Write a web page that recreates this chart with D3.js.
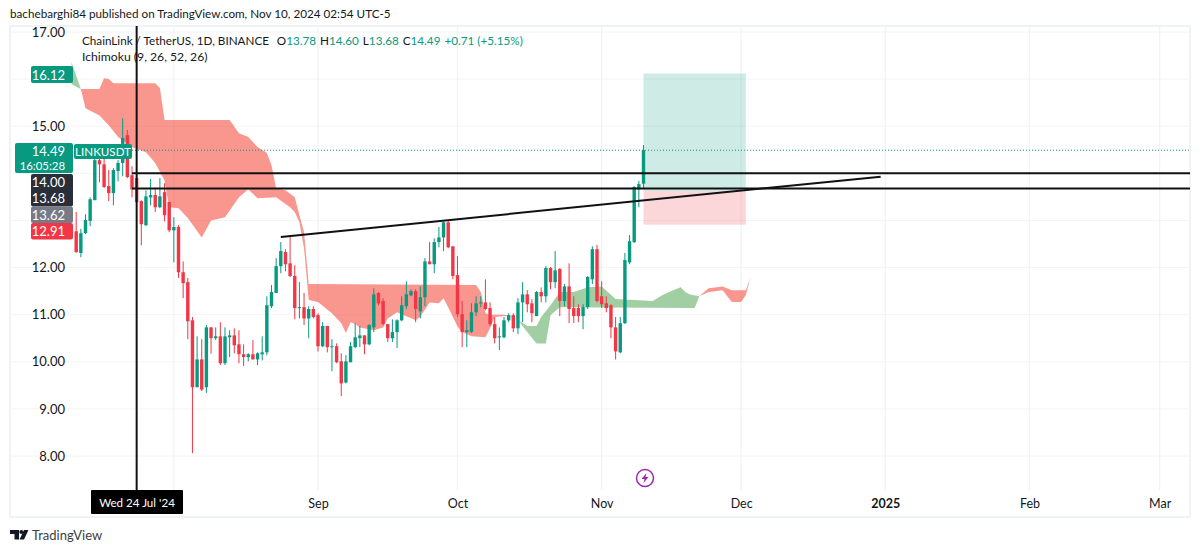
<!DOCTYPE html>
<head>
  <meta charset="utf-8">
  <style>
    html, body { margin: 0; padding: 0; background: #fff; overflow: hidden; }
    svg { display: block; font-family: Lato, sans-serif; color: #131722; }
    .domain { display: none; }
  </style>
  <script src="https://cdn.jsdelivr.net/npm/d3@7"></script>
</head>
<body>
<div id="chart"></div>
<script>
// daily candles, first one is 11 Jul 2024
const first_day = Date.UTC(2024, 6, 11)

const open_prices = [
  12.77, 12.31, 12.73, 12.99, 13.43, 14.28, 14.19, 13.73, 13.58, 14.05,
  14.22, 14.81, 13.96, 13.90, 13.41, 12.90, 13.49, 13.54, 13.28, 13.60,
  13.39, 12.79, 12.86, 11.90, 11.69, 10.88, 9.46, 10.05, 9.46, 10.73,
  10.50, 10.54, 9.97, 10.52, 10.56, 10.37, 10.16, 10.10, 10.16, 10.05,
  10.16, 10.20, 11.18, 11.46, 12.03, 12.33, 12.09, 11.82, 11.14, 11.16,
  10.92, 11.12, 10.99, 10.33, 10.76, 10.31, 10.33, 10.01, 9.56, 9.99,
  10.31, 10.50, 10.56, 10.37, 10.73, 11.46, 11.29, 10.80, 10.50, 10.63,
  10.88, 11.18, 11.41, 11.50, 11.07, 11.37, 12.13, 12.07, 12.54, 12.64,
  12.96, 12.45, 11.84, 11.01, 10.63, 10.63, 11.05, 11.24, 11.26, 11.14,
  10.80, 10.52, 10.52, 10.88, 10.99, 10.71, 11.26, 11.43, 11.24, 10.97,
  11.48, 11.39, 11.99, 11.69, 11.97, 11.29, 11.60, 11.14, 11.14, 10.97,
  11.16, 11.75, 12.39, 11.39, 11.24, 11.20, 10.73, 10.20, 10.82, 12.11,
  12.54, 13.66, 13.78
]
const high_prices = [
  13.18, 12.82, 13.13, 13.49, 14.50, 14.50, 14.39, 14.07, 14.11, 14.28,
  15.17, 14.92, 14.15, 13.96, 13.43, 13.64, 13.88, 13.66, 13.90, 13.79,
  13.39, 13.07, 12.90, 12.13, 11.78, 10.95, 10.54, 10.48, 10.78, 10.73,
  10.73, 10.84, 10.73, 10.67, 10.71, 10.67, 10.37, 10.18, 10.46, 10.20,
  10.54, 11.39, 11.63, 12.20, 12.54, 12.39, 12.69, 12.05, 11.69, 11.46,
  11.18, 11.18, 11.03, 10.84, 10.76, 10.48, 10.39, 10.18, 10.14, 10.42,
  10.82, 10.76, 10.56, 10.80, 11.56, 11.48, 11.35, 10.80, 10.90, 10.90,
  11.39, 11.71, 11.54, 11.54, 11.60, 12.20, 12.54, 12.62, 12.86, 12.98,
  13.01, 12.45, 12.24, 11.29, 10.88, 11.24, 11.39, 11.39, 11.75, 11.26,
  10.95, 10.73, 10.95, 11.03, 11.03, 11.35, 11.69, 11.52, 11.33, 11.50,
  11.58, 12.03, 12.01, 12.35, 11.99, 11.65, 12.09, 11.39, 11.22, 11.22,
  11.82, 12.45, 12.48, 11.71, 11.39, 11.22, 10.95, 10.95, 12.31, 12.69,
  13.73, 13.84, 14.60
]
const low_prices = [
  12.31, 12.22, 12.71, 12.88, 13.43, 13.81, 13.69, 13.41, 13.32, 13.83,
  13.94, 13.90, 13.49, 13.37, 12.47, 12.88, 13.32, 13.18, 13.26, 12.98,
  12.75, 12.11, 11.78, 11.35, 10.48, 8.06, 9.46, 9.38, 9.34, 10.17,
  10.46, 9.93, 9.93, 10.10, 10.18, 9.97, 9.91, 10.01, 10.05, 9.93,
  10.03, 10.14, 11.14, 11.46, 11.88, 11.92, 11.80, 10.90, 10.92, 10.78,
  10.50, 10.92, 10.22, 10.31, 10.20, 9.80, 9.97, 9.27, 9.54, 9.99,
  10.29, 10.31, 10.16, 10.35, 10.63, 11.20, 10.78, 10.42, 10.42, 10.29,
  10.86, 11.12, 11.39, 10.84, 10.92, 11.18, 12.07, 11.88, 12.43, 12.35,
  12.41, 11.75, 10.95, 10.31, 10.31, 10.61, 10.97, 11.16, 11.09, 10.76,
  10.39, 10.25, 10.50, 10.84, 10.63, 10.59, 10.84, 11.05, 10.84, 10.97,
  11.26, 11.26, 11.54, 11.56, 10.97, 11.18, 10.82, 10.82, 10.84, 10.69,
  11.12, 11.65, 11.26, 11.14, 11.05, 10.50, 10.05, 10.18, 10.80, 12.07,
  12.52, 13.28, 13.68
]
const close_prices = [
  12.33, 12.73, 13.01, 13.45, 14.28, 14.19, 13.71, 13.58, 14.07, 14.22,
  14.75, 13.92, 13.66, 13.39, 12.92, 13.51, 13.54, 13.28, 13.51, 13.11,
  12.79, 12.86, 11.90, 11.67, 10.86, 9.46, 10.05, 9.41, 10.73, 10.50,
  10.54, 9.97, 10.54, 10.56, 10.35, 10.16, 10.10, 10.16, 10.05, 10.18,
  10.20, 11.20, 11.48, 12.03, 12.35, 12.07, 11.82, 11.14, 11.16, 10.92,
  11.12, 10.95, 10.33, 10.76, 10.31, 10.33, 9.99, 9.54, 10.01, 10.33,
  10.52, 10.56, 10.37, 10.78, 11.43, 11.24, 10.80, 10.50, 10.63, 10.88,
  11.20, 11.43, 11.50, 11.12, 11.37, 12.13, 12.07, 12.54, 12.64, 12.96,
  12.43, 11.82, 11.01, 10.63, 10.67, 11.05, 11.24, 11.26, 11.12, 10.80,
  10.50, 10.54, 10.88, 10.99, 10.71, 11.26, 11.43, 11.22, 11.03, 11.48,
  11.39, 11.99, 11.69, 11.94, 11.29, 11.60, 11.12, 10.97, 10.97, 11.16,
  11.80, 12.39, 11.29, 11.22, 11.14, 10.73, 10.22, 10.82, 12.16, 12.56,
  13.71, 13.77, 14.49
]

// ichimoku cloud edges, [day after first_day, price]
const green_a_upper = [[-1, 16.36], [1, 15.79]]
const green_a_lower = [[-1, 15.89], [1, 15.79]]
const red_a_upper = [
  [1, 15.79], [5, 15.79], [6, 16.02], [7, 16.0], [8, 15.91], [17, 15.91], [18, 15.81], [19, 15.13],
  [33, 15.13], [35, 14.85], [37, 14.77], [39, 14.56], [41, 14.43], [42, 14.17], [43, 13.68], [45, 13.64],
  [47, 13.49], [48, 13.11], [49, 12.75], [50, 11.65], [86, 11.63], [87, 11.48], [88, 11.03], [89, 11.0],
  [92, 11.0], [94, 10.95]
]
const red_a_lower = [
  [1, 15.79], [2, 15.38], [5, 15.23], [7, 15.02], [9, 14.77], [12, 14.56], [15, 14.45], [17, 14.22],
  [19, 13.85], [20, 13.28], [22, 13.26], [24, 13.05], [27, 12.64], [29, 13.0], [32, 13.07], [35, 13.49],
  [37, 13.66], [39, 13.47], [43, 13.49], [46, 13.28], [47, 13.18], [48, 12.96], [49, 12.41], [50, 11.31],
  [52, 11.27], [55, 11.03], [57, 10.82], [58, 10.61], [59, 10.84], [60, 10.80], [61, 10.73], [64, 10.67],
  [66, 10.73], [67, 10.92], [69, 11.05], [73, 10.88], [74, 10.96], [76, 11.26], [78, 11.24], [79, 11.35],
  [80, 11.16], [82, 10.75], [83, 10.63], [85, 10.54], [88, 10.52], [89, 10.71], [90, 10.95], [92, 10.97],
  [94, 10.95]
]
const green_b_upper = [
  [94, 10.95], [97, 10.76], [99, 10.76], [100, 10.95], [102, 11.2], [104, 11.48], [107, 11.48], [110, 11.58],
  [113, 11.60], [116, 11.33], [124, 11.29], [126, 11.41], [128, 11.50], [130, 11.58], [131, 11.48], [132, 11.43],
  [134, 11.39]
]
const green_b_lower = [
  [94, 10.95], [95, 10.88], [97, 10.63], [99, 10.39], [101, 10.39], [102, 10.99], [104, 11.16], [133, 11.14],
  [134, 11.39]
]
const red_b_upper = [[134, 11.39], [136, 11.56], [139, 11.60], [141, 11.52], [144, 11.52], [145, 11.79]]
const red_b_lower = [[134, 11.39], [136, 11.48], [139, 11.52], [141, 11.27], [143, 11.27], [144, 11.41], [145, 11.79]]

// drawings
const trend_days = [44, 173]
const trend_prices = [12.65, 13.93]
const level_prices = [14.00, 13.68]
const position_days = [122, 144]
const target_price = 16.12
const entry_price = 13.62
const stop_price = 12.91
const last_price = 14.49
const crosshair_day = 13

const price_grid = [8, 9, 10, 11, 12, 13, 14, 15, 16, 17]
// 13, 14 and 16 sit behind the price tags
const price_ticks = [8, 9, 10, 11, 12, 15, 17]
const time_grid = [
  Date.UTC(2024, 7, 1), Date.UTC(2024, 8, 1), Date.UTC(2024, 9, 1), Date.UTC(2024, 10, 1),
  Date.UTC(2024, 11, 1), Date.UTC(2025, 0, 1), Date.UTC(2025, 1, 1), Date.UTC(2025, 2, 1)
]
// Aug sits behind the date tag
const time_ticks = time_grid.slice(1)
const time_labels = ['Sep', 'Oct', 'Nov', 'Dec', '2025', 'Feb', 'Mar']

const up_color = '#089981'
const down_color = '#f23645'
const ms_day = 864e5
const day_date = d => new Date(first_day + d * ms_day)

const width = 1200
const height = 552
const frame_left = 10, frame_right = 1190, frame_top = 26, frame_bottom = 517, plot_bottom = 490

const x = d3.scaleUtc()
  .domain([day_date(0), new Date(Date.UTC(2025, 2, 1))])
  .range([76.2, 1159.65])
const y = d3.scaleLinear().domain([8, 17]).range([456, 32])

const svg = d3.select('#chart').append('svg')
  .attr('width', width)
  .attr('height', height)
  .attr('viewBox', [0, 0, width, height])

// panel frame and grid
svg.append('rect')
  .attr('x', frame_left).attr('y', frame_top)
  .attr('width', frame_right - frame_left).attr('height', frame_bottom - frame_top)
  .attr('fill', 'none').attr('stroke', '#eceff2').attr('stroke-width', 1.5)

svg.append('g')
  .selectAll('line')
  .data(price_grid)
  .join('line')
    .attr('x1', frame_left).attr('x2', frame_right)
    .attr('y1', d => y(d)).attr('y2', d => y(d))
    .attr('stroke', '#f3f4f6')
svg.append('g')
  .selectAll('line')
  .data(time_grid)
  .join('line')
    .attr('x1', d => x(d)).attr('x2', d => x(d))
    .attr('y1', frame_top).attr('y2', plot_bottom)
    .attr('stroke', '#f1f2f4').attr('stroke-width', 1.2)

// axes
svg.append('g')
  .attr('transform', 'translate(70,0)')
  .call(d3.axisLeft(y).tickValues(price_ticks).tickFormat(d3.format('.2f')).tickSize(0).tickPadding(5))
  .call(g => g.selectAll('text').attr('fill', '#131722').attr('font-size', 13).attr('font-family', 'Lato, sans-serif'))

svg.append('g')
  .attr('transform', `translate(0,${plot_bottom})`)
  .call(d3.axisBottom(x).tickValues(time_ticks).tickFormat((d, i) => time_labels[i]).tickSize(0).tickPadding(9))
  .call(g => g.selectAll('text')
    .attr('fill', '#131722').attr('font-size', 12.5).attr('font-family', 'Lato, sans-serif')
    .attr('font-weight', (d, i) => time_labels[i] === '2025' ? 700 : 400))

// cloud
const edge_line = d3.line().x(d => x(day_date(d[0]))).y(d => y(d[1]))
const clouds = [
  [green_a_upper, green_a_lower, '#43a047', .5],
  [red_a_upper, red_a_lower, '#f44336', .56],
  [green_b_upper, green_b_lower, '#43a047', .5],
  [red_b_upper, red_b_lower, '#f44336', .56],
]
svg.append('g')
  .selectAll('path')
  .data(clouds)
  .join('path')
    .attr('d', d => edge_line(d[0].concat(d[1].slice().reverse())) + 'Z')
    .attr('fill', d => d[2])
    .attr('fill-opacity', d => d[3])

// candles
const candles = d3.range(close_prices.length).map(i => ({
  day: day_date(i), open: open_prices[i], high: high_prices[i], low: low_prices[i], close: close_prices[i],
}))
const candle_color = d => d.close >= d.open ? up_color : down_color
const candle_g = svg.append('g')
candle_g.selectAll('line')
  .data(candles)
  .join('line')
    .attr('x1', d => x(d.day)).attr('x2', d => x(d.day))
    .attr('y1', d => y(d.high)).attr('y2', d => y(d.low))
    .attr('stroke', candle_color).attr('stroke-width', 1)
candle_g.selectAll('rect')
  .data(candles)
  .join('rect')
    .attr('x', d => x(d.day) - 1.7)
    .attr('width', 3.4)
    .attr('y', d => y(Math.max(d.open, d.close)))
    .attr('height', d => Math.max(1, Math.abs(y(d.open) - y(d.close))))
    .attr('fill', candle_color)

// long position box
const box_x0 = x(day_date(position_days[0])), box_x1 = x(day_date(position_days[1]))
svg.append('rect')
  .attr('x', box_x0).attr('width', box_x1 - box_x0)
  .attr('y', y(target_price)).attr('height', y(entry_price) - y(target_price))
  .attr('fill', up_color).attr('fill-opacity', .2)
svg.append('rect')
  .attr('x', box_x0).attr('width', box_x1 - box_x0)
  .attr('y', y(entry_price)).attr('height', y(stop_price) - y(entry_price))
  .attr('fill', down_color).attr('fill-opacity', .2)

// last price line
svg.append('line')
  .attr('x1', x(day_date(12))).attr('x2', frame_right)
  .attr('y1', y(last_price)).attr('y2', y(last_price))
  .attr('stroke', up_color).attr('stroke-dasharray', '1 2')

// levels and trend line
svg.append('g')
  .selectAll('line')
  .data(level_prices)
  .join('line')
    .attr('x1', x(day_date(12))).attr('x2', frame_right)
    .attr('y1', d => y(d)).attr('y2', d => y(d))
    .attr('stroke', '#111').attr('stroke-width', 2)
svg.append('line')
  .attr('x1', x(day_date(trend_days[0]))).attr('x2', x(day_date(trend_days[1])))
  .attr('y1', y(trend_prices[0])).attr('y2', y(trend_prices[1]))
  .attr('stroke', '#111').attr('stroke-width', 2)

// crosshair
svg.append('line')
  .attr('x1', x(day_date(crosshair_day))).attr('x2', x(day_date(crosshair_day)))
  .attr('y1', frame_top).attr('y2', plot_bottom)
  .attr('stroke', '#111').attr('stroke-width', 2)

// price tags on the axis
const tag = (x0, y0, w, h, fill, lines, opts = {}) => {
  svg.append('rect')
    .attr('x', x0).attr('y', y0).attr('width', w).attr('height', h)
    .attr('rx', 2).attr('fill', fill)
  lines.forEach((t, i) => {
    svg.append('text')
      .attr('x', opts.anchor === 'middle' ? x0 + w / 2 : x0 + w - 8)
      .attr('y', y0 + h / lines.length * (i + .5) + .5)
      .attr('dy', '.35em')
      .attr('text-anchor', opts.anchor || 'end')
      .attr('fill', '#fff')
      .attr('font-size', (opts.sizes || [])[i] || 13)
      .text(t)
  })
}
const fmt = d3.format('.2f')
tag(31, y(target_price) - 7.5, 42, 17, up_color, [fmt(target_price)])
tag(15, 143, 58, 30, up_color, [fmt(last_price), '16:05:28'], { sizes: [13, 11.4] })
tag(74, 144, 58, 15, up_color, ['LINKUSDT'], { anchor: 'middle', sizes: [11.6] })
tag(31, 174, 42, 32.5, '#2a2e39', [fmt(level_prices[0]), fmt(level_prices[1])])
tag(31, 206.5, 42, 16.5, '#787b86', [fmt(entry_price)])
tag(31, 223, 42, 16.5, down_color, [fmt(stop_price)])

// date tag under the crosshair
svg.append('rect')
  .attr('x', 91).attr('y', plot_bottom).attr('width', 92).attr('height', 24)
  .attr('rx', 1).attr('fill', '#000')
svg.append('text')
  .attr('x', 137).attr('y', plot_bottom + 12.5).attr('dy', '.35em')
  .attr('text-anchor', 'middle').attr('fill', '#fff').attr('font-size', 11.6)
  .text("Wed 24 Jul '24")

// bolt icon
const icon = svg.append('g').attr('transform', 'translate(645,478)')
icon.append('circle').attr('r', 8.5).attr('fill', '#fff').attr('stroke', '#9c27b0').attr('stroke-width', 1.5)
icon.append('path').attr('d', 'M1.5-5L-3.5 1H-.5L-1.5 5L3.5-1H.5Z').attr('fill', '#9c27b0')

// header and legend
svg.append('text')
  .attr('x', 10).attr('y', 18).attr('font-size', 11.7).attr('fill', '#131722')
  .text('bachebarghi84 published on TradingView.com, Nov 10, 2024 02:54 UTC-5')

const legend = svg.append('text').attr('x', 82).attr('y', 45).attr('font-size', 11.7).attr('fill', '#131722')
legend.append('tspan').text('ChainLink / TetherUS, 1D, BINANCE')
const legend_values = [
  ['O', open_prices.at(-1)], ['H', high_prices.at(-1)], ['L', low_prices.at(-1)], ['C', close_prices.at(-1)],
]
legend_values.forEach(([k, v], i) => {
  legend.append('tspan').attr('dx', i ? 4 : 8).text(k)
  legend.append('tspan').attr('fill', up_color).text(fmt(v))
})
legend.append('tspan').attr('dx', 4).attr('fill', up_color).text('+0.71 (+5.15%)')

svg.append('text')
  .attr('x', 82).attr('y', 61).attr('font-size', 12.2).attr('fill', '#131722')
  .text('Ichimoku (9, 26, 52, 26)')

// logo
const logo = svg.append('g').attr('fill', '#131722')
logo.append('path').attr('d', 'M10 530H19V539.5H14.5V534H10Z')
logo.append('circle').attr('cx', 21.3).attr('cy', 532).attr('r', 2)
logo.append('path').attr('d', 'M24 530H28.5L24 539.5H19.5Z')
svg.append('text')
  .attr('x', 32).attr('y', 540).attr('font-size', 13).attr('fill', '#3c4043')
  .text('TradingView')
</script>
</body>
